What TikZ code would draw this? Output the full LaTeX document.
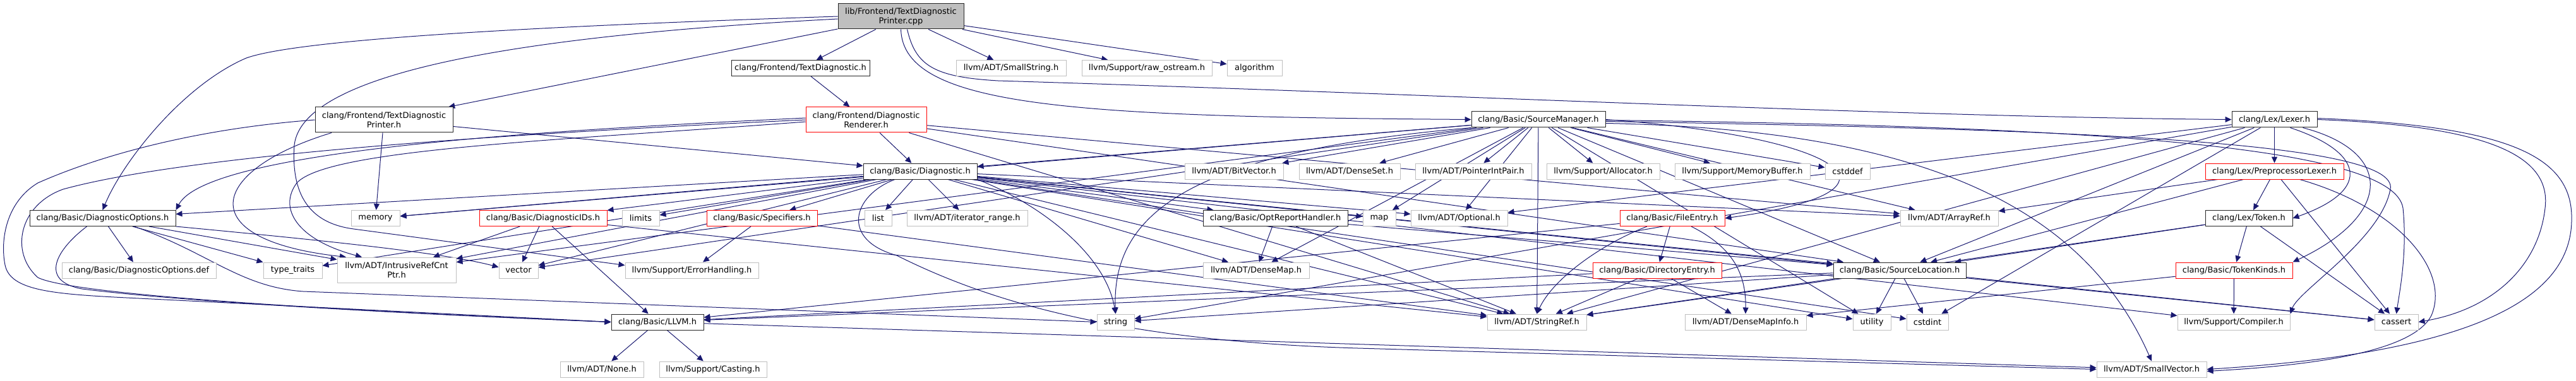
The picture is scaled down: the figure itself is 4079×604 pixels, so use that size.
\documentclass[tikz,border=0pt]{standalone}
\usepackage{fontspec}
\setmainfont{DejaVu Sans}
\usetikzlibrary{arrows.meta,backgrounds}
\definecolor{mblue}{RGB}{25,25,112}
\definecolor{grey75}{RGB}{191,191,191}
\definecolor{tred}{RGB}{255,0,0}
\tikzset{
  nbase/.style={rectangle, inner sep=0pt, minimum height=25pt, align=center, fill=white,
    font=\fontsize{13pt}{15pt}\selectfont},
  doc/.style={nbase, draw=black!85, line width=1pt},
  sys/.style={nbase, draw=grey75, line width=1pt},
  trunc/.style={nbase, draw=tred, line width=1pt},
  edg/.style={draw=mblue, line width=1pt, -{Triangle[length=10pt,width=9pt]}, mblue},
}
\begin{document}
\begin{tikzpicture}[x=1pt,y=-1pt]
\useasboundingbox (0,0) rectangle (4079,604);
% row 1
\node[doc,fill=grey75,minimum width=199pt,minimum height=40pt] (cpp) at (1426.5,26) {lib/Frontend/TextDiagnostic\\Printer.cpp};
% row 2
\node[doc,minimum width=219pt] (tdh) at (1267.5,108) {clang/Frontend/TextDiagnostic.h};
\node[sys,minimum width=174pt] (sstr) at (1601,108) {llvm/ADT/SmallString.h};
\node[sys,minimum width=206pt] (raw) at (1816,108) {llvm/Support/raw\_ostream.h};
\node[sys,minimum width=87pt] (algo) at (1986.5,108) {algorithm};
% row 3
\node[doc,minimum width=218pt,minimum height=40pt] (tdph) at (608,190) {clang/Frontend/TextDiagnostic\\Printer.h};
\node[trunc,minimum width=191pt,minimum height=40pt] (drend) at (1371.5,190) {clang/Frontend/Diagnostic\\Renderer.h};
\node[doc,minimum width=212pt] (sm) at (2436,189.5) {clang/Basic/SourceManager.h};
\node[doc,minimum width=135pt] (lexer) at (3601.5,189.5) {clang/Lex/Lexer.h};
% row 4
\node[doc,minimum width=180pt] (diag) at (1457,271.5) {clang/Basic/Diagnostic.h};
\node[sys,minimum width=156pt] (bitv) at (1954,271.5) {llvm/ADT/BitVector.h};
\node[sys,minimum width=160pt] (dset) at (2137,271.5) {llvm/ADT/DenseSet.h};
\node[sys,minimum width=184pt] (pip) at (2333,271.5) {llvm/ADT/PointerIntPair.h};
\node[sys,minimum width=179pt] (alloc) at (2538.5,271.5) {llvm/Support/Allocator.h};
\node[sys,minimum width=214pt] (membuf) at (2759,271.5) {llvm/Support/MemoryBuffer.h};
\node[sys,minimum width=71pt] (cstddef) at (2925.5,271.5) {cstddef};
\node[trunc,minimum width=219pt] (pplex) at (3601.5,271.5) {clang/Lex/PreprocessorLexer.h};
% row 5
\node[doc,minimum width=231pt] (dopt) at (162.5,346) {clang/Basic/DiagnosticOptions.h};
\node[sys,minimum width=77pt] (memory) at (594.5,346) {memory};
\node[trunc,minimum width=202pt] (dids) at (860,346) {clang/Basic/DiagnosticIDs.h};
\node[sys,minimum width=59pt] (limits) at (1014.5,346) {limits};
\node[trunc,minimum width=175pt] (spec) at (1206.5,346) {clang/Basic/Specifiers.h};
\node[sys,minimum width=43pt] (list) at (1390.5,346) {list};
\node[sys,minimum width=191pt] (itr) at (1531.5,346) {llvm/ADT/iterator\_range.h};
\node[doc,minimum width=229pt] (orh) at (2019.5,346) {clang/Basic/OptReportHandler.h};
\node[sys,minimum width=52pt] (map) at (2184,346) {map};
\node[sys,minimum width=153pt] (opt) at (2310.5,346) {llvm/ADT/Optional.h};
\node[trunc,minimum width=166pt] (fentry) at (2648,346) {clang/Basic/FileEntry.h};
\node[sys,minimum width=155pt] (aref) at (3086.5,346) {llvm/ADT/ArrayRef.h};
\node[doc,minimum width=138pt] (token) at (3561,346) {clang/Lex/Token.h};
% row 6
\node[sys,minimum width=244pt] (ddef) at (220,428.5) {clang/Basic/DiagnosticOptions.def};
\node[sys,minimum width=93pt] (tt) at (463.5,428.5) {type\_traits};
\node[sys,minimum width=188pt,minimum height=40pt] (irc) at (628,428) {llvm/ADT/IntrusiveRefCnt\\Ptr.h};
\node[sys,minimum width=62pt] (vec) at (821,428.5) {vector};
\node[sys,minimum width=211pt] (eh) at (1095.5,428.5) {llvm/Support/ErrorHandling.h};
\node[sys,minimum width=168pt] (dmap) at (1989,428.5) {llvm/ADT/DenseMap.h};
\node[trunc,minimum width=204pt] (dentry) at (2624,428.5) {clang/Basic/DirectoryEntry.h};
\node[doc,minimum width=210pt] (sloc) at (3008,428.5) {clang/Basic/SourceLocation.h};
\node[trunc,minimum width=185pt] (tk) at (3537.5,428.5) {clang/Basic/TokenKinds.h};
% row 7
\node[doc,minimum width=146pt] (llvmh) at (1041,510.5) {clang/Basic/LLVM.h};
\node[sys,minimum width=59pt] (str) at (1766.5,510.5) {string};
\node[sys,minimum width=157pt] (sref) at (2433.5,510.5) {llvm/ADT/StringRef.h};
\node[sys,minimum width=192pt] (dmi) at (2764,510.5) {llvm/ADT/DenseMapInfo.h};
\node[sys,minimum width=60pt] (util) at (2964,510.5) {utility};
\node[sys,minimum width=66pt] (cstdint) at (3052,510.5) {cstdint};
\node[sys,minimum width=178pt] (comp) at (3537,510.5) {llvm/Support/Compiler.h};
\node[sys,minimum width=69pt] (cassert) at (3794.5,510.5) {cassert};
% row 8
\node[sys,minimum width=132pt] (none) at (953,585.5) {llvm/ADT/None.h};
\node[sys,minimum width=170pt] (cast) at (1129,585.5) {llvm/Support/Casting.h};
\node[sys,minimum width=174pt] (svec) at (3407,585.5) {llvm/ADT/SmallVector.h};

\begin{scope}[on background layer]
% cpp
\draw[edg] (cpp) -- (tdph);
\draw[edg] (cpp) -- (tdh);
\draw[edg] (cpp) -- (sstr);
\draw[edg] (cpp) -- (raw);
\draw[edg] (cpp) -- (algo);
\draw[edg] (cpp.west) .. controls (900,40) and (480,60) .. (390,92) .. controls (290,135) and (195,255) .. (dopt.north);
\draw[edg] ([yshift=-4pt]cpp.west) .. controls (850,55) and (480,110) .. (466,230) .. controls (460,320) and (500,355) .. (560,363) -- ([yshift=8pt]eh.west);
\draw[edg] (cpp.south) .. controls (1430,170) and (1700,185) .. (sm.west);
\draw[edg] ([xshift=10pt]cpp.south) .. controls (1450,105) and (1480,122) .. (1580,128) .. controls (2300,150) and (3000,185) .. (lexer.west);
% tdh
\draw[edg] (tdh) -- (drend);
% tdph
\draw[edg] (tdph.west) .. controls (300,205) and (150,250) .. (60,290) .. controls (10,320) and (0,380) .. (8,420) .. controls (16,460) and (80,466) .. (200,472) -- (llvmh.west);
\draw[edg] ([xshift=-83pt]tdph.south) .. controls (330,270) and (300,380) .. ([xshift=-80pt]irc.north);
\draw[edg] ([xshift=-2pt]tdph.south) -- (memory);
\draw[edg] (tdph) -- (diag);
% drend
\draw[edg] (drend) -- (diag);
\draw[edg] ([yshift=3pt]drend.west) .. controls (900,205) and (330,235) .. (dopt.north east);
\draw[edg] (drend.west) .. controls (800,212) and (300,245) .. (100,300) .. controls (30,325) and (15,400) .. (60,440) .. controls (120,470) and (600,495) .. (llvmh.west);
\draw[edg] ([yshift=-3pt]drend.west) .. controls (900,222) and (520,235) .. (470,290) .. controls (440,330) and (470,380) .. ([xshift=-55pt]irc.north);
\draw[edg] (drend) -- (sloc);
\draw[edg] (drend) -- (aref);
\draw[edg] (drend) -- (sref);
% diag
\draw[edg] (diag) -- (dids);
\draw[edg] (diag) -- (dopt);
\draw[edg] (diag) -- (sloc);
\draw[edg] (diag) -- (spec);
\draw[edg] (diag) -- (aref);
\draw[edg] (diag) -- (dmap);
\draw[edg] (diag) -- (irc);
\draw[edg] (diag) -- (opt);
\draw[edg] ([xshift=-40pt]diag.south) .. controls (1350,310) and (1330,380) .. (1420,405) .. controls (1550,470) and (1750,540) .. (2150,552) -- (svec.west);
\draw[edg] (diag) -- (sref);
\draw[edg] (diag) -- (itr);
\draw[edg] (diag) -- (comp);
\draw[edg] (diag) -- (cassert);
\draw[edg] (diag) -- (cstdint);
\draw[edg] (diag) -- (limits);
\draw[edg] (diag) -- (list);
\draw[edg] (diag) -- (map);
\draw[edg] (diag) -- (memory);
\draw[edg] (diag.south east) .. controls (1640,320) and (1750,400) .. (str.north);
\draw[edg] (diag) -- (tt);
\draw[edg] (diag) -- (util);
\draw[edg] (diag) -- (vec);
\draw[edg] (diag) -- (orh);
% sm
\draw[edg] (sm) -- (diag);
\draw[edg] (sm.east) .. controls (2900,215) and (3060,300) .. (fentry.east);
\draw[edg] (sm) -- (sloc);
\draw[edg] (sm) -- (aref);
\draw[edg] (sm) -- (bitv);
\draw[edg] (sm) -- (dmap);
\draw[edg] (sm) -- (dset);
\draw[edg] (sm) -- (irc);
\draw[edg] (sm) -- (pip);
\draw[edg] ([yshift=-6pt]sm.east) .. controls (3050,205) and (3300,330) .. (svec.north);
\draw[edg] (sm) -- (sref);
\draw[edg] (sm) -- (alloc);
\draw[edg] ([yshift=-3pt]sm.east) .. controls (3300,205) and (3800,225) .. (3785,300) .. controls (3770,380) and (3640,460) .. (comp.north east);
\draw[edg] (sm) -- (membuf);
\draw[edg] ([yshift=-1pt]sm.east) .. controls (3300,200) and (3790,230) .. (3805,330) .. controls (3812,400) and (3800,460) .. (cassert.north);
\draw[edg] (sm) -- (cstddef);
\draw[edg] (sm) -- (map);
\draw[edg] (sm) -- (memory);
\draw[edg] (sm.south west) .. controls (1900,240) and (1760,330) .. (str.north);
\draw[edg] (sm) -- (util);
\draw[edg] (sm) -- (vec);
\draw[edg] (sm) -- (opt);
% lexer
\draw[edg] (lexer) -- (pplex);
\draw[edg] ([xshift=25pt]lexer.south) .. controls (3740,240) and (3760,300) .. (token.east);
\draw[edg] ([xshift=45pt]lexer.south) .. controls (3790,240) and (3790,340) .. (tk.north east);
\draw[edg] (lexer.east) .. controls (3950,200) and (4040,250) .. (4030,330) .. controls (4020,420) and (3950,490) .. (cassert.east);
\draw[edg] ([yshift=2pt]lexer.east) .. controls (3980,200) and (4075,250) .. (4072,350) .. controls (4070,480) and (3900,560) .. (svec.east);
\draw[edg] (lexer) -- (sloc);
\draw[edg] (lexer) -- (opt);
\draw[edg] (lexer) -- (sref);
\draw[edg] (lexer) -- (str);
\draw[edg] (lexer) -- (cstdint);
% pplex
\draw[edg] (pplex) -- (token);
\draw[edg] (pplex) -- (sloc);
\draw[edg] (pplex) -- (aref);
\draw[edg] ([xshift=40pt]pplex.south) .. controls (3800,330) and (3880,430) .. (3850,500) .. controls (3820,560) and (3650,580) .. ([yshift=-3pt]svec.east);
\draw[edg] (pplex) -- (cassert);
% token
\draw[edg] (token) -- (tk);
\draw[edg] (token) -- (cassert);
\draw[edg] (token) -- (sloc);
\draw[edg] (token) -- (sref);
% tk
\draw[edg] (tk) -- (comp);
\draw[edg] (tk) -- (dmi);
% sloc
\draw[edg] (sloc) -- (llvmh);
\draw[edg] (sloc) -- (sref);
\draw[edg] (sloc) -- (util);
\draw[edg] (sloc) -- (cstdint);
\draw[edg] (sloc) -- (cassert);
\draw[edg] (sloc) -- (str);
% fentry
\draw[edg] (fentry) -- (dentry);
\draw[edg] ([xshift=-40pt]fentry.south) .. controls (2540,385) and (2460,440) .. (sref.north);
\draw[edg] ([xshift=30pt]fentry.south) .. controls (2740,390) and (2765,430) .. (dmi.north);
\draw[edg] (fentry) -- (llvmh);
% dentry
\draw[edg] (dentry) -- (llvmh);
\draw[edg] (dentry) -- (sref);
\draw[edg] (dentry) -- (dmi);
% orh
\draw[edg] (orh) -- (dmap);
\draw[edg] (orh) -- (sref);
\draw[edg] (orh) -- (sloc);
% dopt
\draw[edg] (dopt) -- (ddef);
\draw[edg] (dopt) -- (tt);
\draw[edg] (dopt) -- (irc);
\draw[edg] ([xshift=-25pt]dopt.south) .. controls (90,395) and (60,445) .. (130,458) .. controls (300,480) and (700,500) .. (llvmh.west);
\draw[edg] ([xshift=50pt]dopt.south) .. controls (330,400) and (380,455) .. (480,462) -- (str.west);
\draw[edg] (dopt.south east) .. controls (500,380) and (700,400) .. ([yshift=5pt]vec.west);
% dids
\draw[edg] (dids) -- (irc);
\draw[edg] (dids) -- (vec);
\draw[edg] (dids) -- (llvmh);
\draw[edg] (dids) -- (sref);
% spec
\draw[edg] (spec) -- (eh);
\draw[edg] (spec) -- (sref);
% llvmh
\draw[edg] (llvmh) -- (none);
\draw[edg] (llvmh) -- (cast);
\draw[edg] (llvmh) -- (svec);
\end{scope}
\end{tikzpicture}
\end{document}
